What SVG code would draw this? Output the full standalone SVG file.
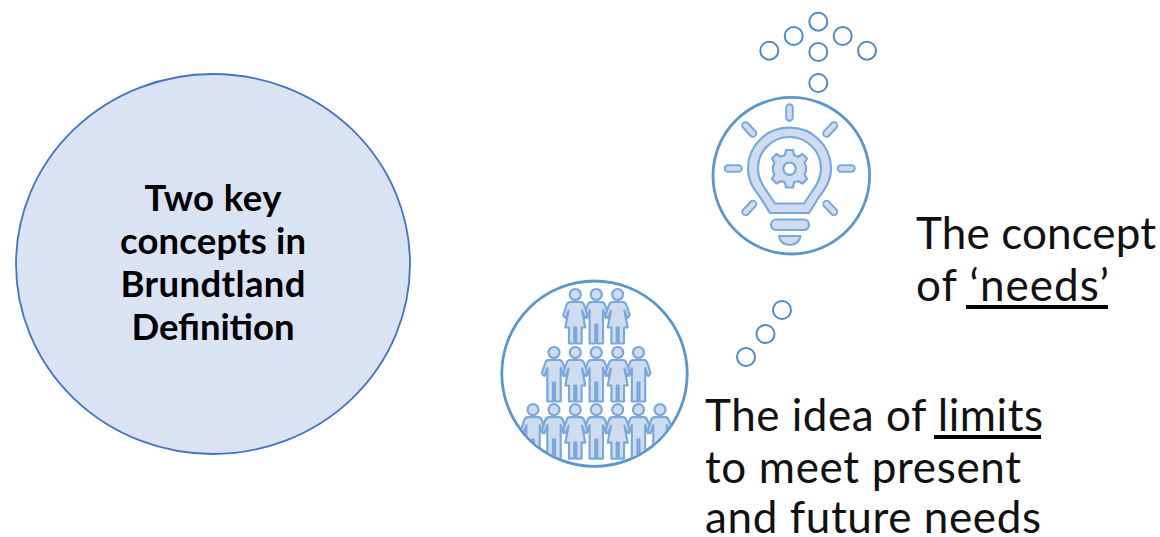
<svg xmlns="http://www.w3.org/2000/svg" width="1160" height="537" viewBox="0 0 1160 537">
<style>
.t{font-family:Lato,"Open Sans",sans-serif;font-size:44px;fill:#111}
.b{font-family:Lato,"Open Sans",sans-serif;font-size:36.500px;font-weight:700;fill:#000;text-anchor:middle}
.dot{fill:#fff;stroke:#4f8ac4;stroke-width:2}
.ring{fill:#fff;stroke:#5b97c9;stroke-width:2.800}
.ic{fill:#cfdcf0;stroke:#79a9dc;stroke-width:2.200;stroke-linejoin:round}
.rayo{stroke:#79a9dc;stroke-width:8.500;stroke-linecap:round;fill:none}
.rayi{stroke:#cfdcf0;stroke-width:4.600;stroke-linecap:round;fill:none}
</style>
<defs>
<g id="man">
<circle class="ic" cx="0" cy="0" r="5.500"/>
<path class="ic" d="M-5,7.500H5Q8,7.500 9,11L12,20.500Q12,22 9.500,23.500L6.700,15.500V27.500V49H1V30H-1V49H-6.700V27.500V15.500L-9.500,23.500Q-12,22 -12,20.500L-9,11Q-8,7.500 -5,7.500Z"/>
</g>
<g id="woman">
<circle class="ic" cx="0" cy="0" r="5.500"/>
<path class="ic" d="M-5,7.500H5Q8,7.500 9,11L12,20.500Q12,22 9.500,23.500L6.700,16L10,33H6.300V49H1V33H-1V49H-6.300V33H-10L-6.700,16L-9.500,23.500Q-12,22 -12,20.500L-9,11Q-8,7.500 -5,7.500Z"/>
</g>
<clipPath id="pc"><circle cx="594.500" cy="373.700" r="91.500"/></clipPath>
</defs>
<rect width="1160" height="537" fill="#fff"/>
<g id="connectors"></g>
<g id="main-circle">
<ellipse cx="213" cy="264" rx="197" ry="190" fill="#dae3f3" stroke="#4472c4" stroke-width="1.800"/>
<text class="b" x="213" y="210.500" textLength="137">Two key</text>
<text class="b" x="213" y="254" textLength="186">concepts in</text>
<text class="b" x="213" y="297" textLength="185">Brundtland</text>
<text class="b" x="213" y="340" textLength="163">Definition</text>
</g>
<g id="thought-dots-top">
<circle class="dot" cx="818.300" cy="21.700" r="9"/>
<circle class="dot" cx="793.700" cy="36" r="9"/>
<circle class="dot" cx="842.700" cy="36" r="9"/>
<circle class="dot" cx="769.300" cy="50.700" r="9"/>
<circle class="dot" cx="818.300" cy="52" r="9"/>
<circle class="dot" cx="867" cy="50.700" r="9"/>
<circle class="dot" cx="818.300" cy="83" r="9"/>
</g>
<g id="bulb-icon">
<circle class="ring" cx="791.300" cy="175.700" r="78.300"/>
<path class="rayo" d="M789.500,107.500V117.500M728,168.500H738.500M841,168.500H851.500M745.500,125.500L753,133.500M834,125.500L826.500,133.500M745.500,212L753,204M834,212L826.500,204"/>
<path class="rayi" d="M789.500,107.500V117.500M728,168.500H738.500M841,168.500H851.500M745.500,125.500L753,133.500M834,125.500L826.500,133.500M745.500,212L753,204M834,212L826.500,204"/>
<path class="ic" fill-rule="evenodd" d="M789.500,127.700C766,127.700 748,146 748,168.500C748,181 754,189 760,197L770,213H809L819,197C825,189 831,181 831,168.500C831,146 813,127.700 789.500,127.700ZM789.500,137C772,137 758,151 758,168.500C758,178 762,185 767,191.500L775,203.500H804L812,191.500C817,185 821,178 821,168.500C821,151 807,137 789.500,137Z"/>
<path class="ic" fill-rule="evenodd" d="M786,150H793L794,155L798,156.700L802.500,154L807,158.500L804.500,163L806,166V171.500L804.500,174L807,179L802.500,183.500L798,181L794,182.500L793,187.500H786L785,182.500L781,181L776.500,183.500L772,179L774.500,174L773,171.500V166L774.500,163L772,158.500L776.500,154L781,156.700L785,155ZM789.500,162.500A6.200,6.200 0 1 0 789.501,162.500Z"/>
<rect class="ic" x="771" y="219.500" width="38" height="10.500" rx="5.200"/>
<path class="ic" d="M779,236H800.500C800,241 796,245 789.700,245C783.500,245 779.500,241 779,236Z"/>
</g>
<g id="thought-dots-bottom">
<circle class="dot" cx="782" cy="310" r="9"/>
<circle class="dot" cx="765.500" cy="334" r="9"/>
<circle class="dot" cx="746" cy="357" r="9"/>
</g>
<g id="people-icon">
<circle class="ring" cx="594.500" cy="373.700" r="92.700"/>
<g clip-path="url(#pc)">
<use href="#man" x="533" y="409.700"/>
<use href="#man" x="554" y="409.700"/>
<use href="#man" x="638.500" y="409.700"/>
<use href="#man" x="660" y="409.700"/>
<use href="#man" x="596.300" y="409.700"/>
<use href="#woman" x="575.300" y="409.700"/>
<use href="#woman" x="617.700" y="409.700"/>
<use href="#man" x="554" y="352.500"/>
<use href="#man" x="638.500" y="352.500"/>
<use href="#man" x="596.300" y="352.500"/>
<use href="#woman" x="575.300" y="352.500"/>
<use href="#woman" x="617.700" y="352.500"/>
<use href="#man" x="596.300" y="294.500"/>
<use href="#woman" x="575.300" y="294.500"/>
<use href="#woman" x="617.700" y="294.500"/>
</g>
</g>
<g id="label-needs">
<text class="t" x="916" y="248.500" textLength="240">The concept</text>
<text class="t" x="916" y="300.500" textLength="193">of ‘needs’</text>
<rect x="966" y="305" width="142" height="4" fill="#000"/>
</g>
<g id="label-limits">
<text class="t" x="705" y="431" textLength="338">The idea of limits</text>
<text class="t" x="705" y="483" textLength="316">to meet present</text>
<text class="t" x="705" y="533" textLength="336">and future needs</text>
<rect x="934" y="435" width="107" height="4" fill="#000"/>
</g>
</svg>
